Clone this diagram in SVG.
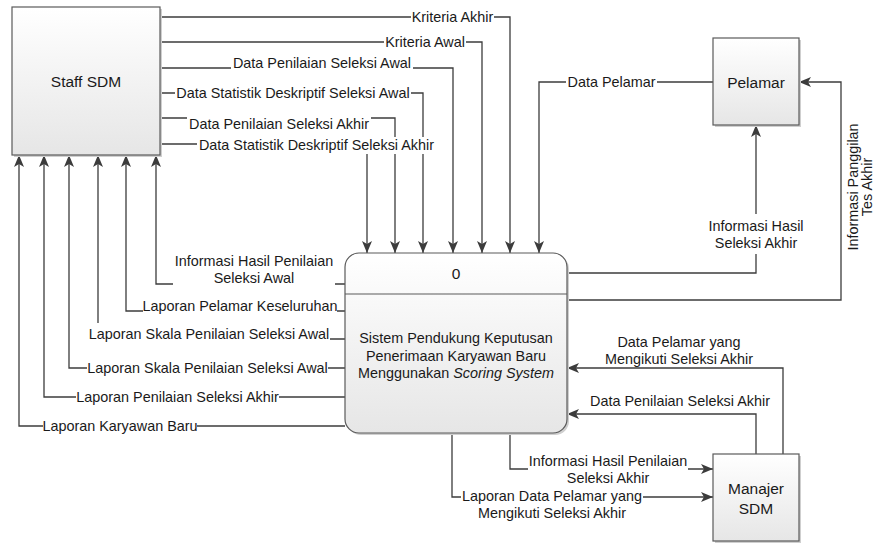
<svg xmlns="http://www.w3.org/2000/svg" width="875" height="543" viewBox="0 0 875 543">
  <defs>
    <linearGradient id="boxFill" x1="0" y1="0" x2="0" y2="1">
      <stop offset="0" stop-color="#ffffff"/>
      <stop offset="1" stop-color="#e6e6e6"/>
    </linearGradient>
    <marker id="arrow" viewBox="0 0 12 10" refX="12" refY="5" markerWidth="12" markerHeight="10" orient="auto" markerUnits="userSpaceOnUse">
      <path d="M0,0 L12,5 L0,10 L3,5 z" fill="#3c3c3c"/>
    </marker>
    <style>
      .box { fill: url(#boxFill); stroke: #5a5a5a; stroke-width: 1.2; }
      .shadow { fill: #cfcfcf; }
      .flow { fill: none; stroke: #3c3c3c; stroke-width: 1.3; marker-end: url(#arrow); }
      .lbg { fill: #ffffff; }
      text { font-family: "Liberation Sans", Arial, sans-serif; fill: #1a1a1a; }
      .name { font-size: 15.5px; text-anchor: middle; }
      .lbl { font-size: 14.4px; text-anchor: middle; }
    </style>
  </defs>

  <rect width="875" height="543" fill="#ffffff"/>

  <!-- connectors -->
  <g id="connectors">
    <!-- Staff SDM to process -->
    <path class="flow" d="M160,17 H510 V253"/>
    <path class="flow" d="M160,42 H482 V253"/>
    <path class="flow" d="M160,68 H453 V253"/>
    <path class="flow" d="M160,93 H423 V253"/>
    <path class="flow" d="M160,118 H395 V253"/>
    <path class="flow" d="M160,144 H367 V253"/>
    <!-- Pelamar -->
    <path class="flow" d="M713,82 H539 V253"/>
    <path class="flow" d="M567,273 H756 V125"/>
    <path class="flow" d="M567,300 H841 V82 H799"/>
    <!-- Manajer SDM -->
    <path class="flow" d="M783,454 V368 H567"/>
    <path class="flow" d="M756,454 V414 H567"/>
    <path class="flow" d="M510,433 V469 H713"/>
    <path class="flow" d="M452,433 V497 H713"/>
    <!-- process to Staff SDM -->
    <path class="flow" d="M345,284 H156 V155"/>
    <path class="flow" d="M345,311 H126 V155"/>
    <path class="flow" d="M345,339 H98 V155"/>
    <path class="flow" d="M345,368 H69 V155"/>
    <path class="flow" d="M345,397 H44 V155"/>
    <path class="flow" d="M345,426 H19 V155"/>
  </g>

  <!-- connector labels -->
  <g id="labels">
    <rect class="lbg" x="411" y="9" width="83" height="17"/>
    <text class="lbl" x="452.5" y="22">Kriteria Akhir</text>
    <rect class="lbg" x="384" y="34" width="82" height="17"/>
    <text class="lbl" x="425" y="47">Kriteria Awal</text>
    <rect class="lbg" x="231" y="55" width="182" height="17"/>
    <text class="lbl" x="322" y="68">Data Penilaian Seleksi Awal</text>
    <rect class="lbg" x="175" y="85" width="236" height="17"/>
    <text class="lbl" x="293" y="98">Data Statistik Deskriptif Seleksi Awal</text>
    <rect class="lbg" x="187" y="115" width="184" height="17"/>
    <text class="lbl" x="279" y="128.5">Data Penilaian Seleksi Akhir</text>
    <rect class="lbg" x="197" y="137" width="239" height="17"/>
    <text class="lbl" x="316.5" y="150">Data Statistik Deskriptif Seleksi Akhir</text>

    <rect class="lbg" x="566" y="74" width="91" height="17"/>
    <text class="lbl" x="611.5" y="87">Data Pelamar</text>
    <rect class="lbg" x="714" y="214" width="84" height="40"/>
    <text class="lbl" x="756" y="231">Informasi Hasil</text>
    <text class="lbl" x="756" y="248">Seleksi Akhir</text>
    <text class="lbl" transform="translate(858,187) rotate(-90)">Informasi Panggilan</text>
    <text class="lbl" transform="translate(872,187) rotate(-90)">Tes Akhir</text>

    <text class="lbl" x="679" y="347">Data Pelamar yang</text>
    <text class="lbl" x="679" y="363.5">Mengikuti Seleksi Akhir</text>
    <text class="lbl" x="680" y="406">Data Penilaian Seleksi Akhir</text>
    <rect class="lbg" x="528" y="452" width="160" height="35"/>
    <text class="lbl" x="608" y="466">Informasi Hasil Penilaian</text>
    <text class="lbl" x="608" y="482.5">Seleksi Akhir</text>
    <rect class="lbg" x="461" y="488" width="182" height="34"/>
    <text class="lbl" x="552" y="500.5">Laporan Data Pelamar yang</text>
    <text class="lbl" x="552" y="518">Mengikuti Seleksi Akhir</text>

    <rect class="lbg" x="173" y="250" width="162" height="39"/>
    <text class="lbl" x="254" y="266">Informasi Hasil Penilaian</text>
    <text class="lbl" x="254" y="282.5">Seleksi Awal</text>
    <rect class="lbg" x="143" y="297" width="194" height="17"/>
    <text class="lbl" x="240" y="311">Laporan Pelamar Keseluruhan</text>
    <rect class="lbg" x="88" y="323" width="242" height="19"/>
    <text class="lbl" x="209" y="338.5">Laporan Skala Penilaian Seleksi Awal</text>
    <rect class="lbg" x="87" y="359" width="241" height="17"/>
    <text class="lbl" x="207.5" y="373">Laporan Skala Penilaian Seleksi Awal</text>
    <rect class="lbg" x="76" y="388" width="203" height="17"/>
    <text class="lbl" x="177.5" y="402">Laporan Penilaian Seleksi Akhir</text>
    <rect class="lbg" x="43" y="417" width="154" height="17"/>
    <text class="lbl" x="120" y="431">Laporan Karyawan Baru</text>
  </g>

  <!-- external entity: Staff SDM -->
  <g id="staff-sdm">
    <rect class="shadow" x="14" y="9" width="148" height="148"/>
    <rect class="box" x="12" y="7" width="148" height="148"/>
    <text class="name" x="86" y="87">Staff SDM</text>
  </g>

  <!-- external entity: Pelamar -->
  <g id="pelamar">
    <rect class="shadow" x="715" y="40" width="86" height="87"/>
    <rect class="box" x="713" y="38" width="86" height="87"/>
    <text class="name" x="756" y="87.5">Pelamar</text>
  </g>

  <!-- external entity: Manajer SDM -->
  <g id="manajer-sdm">
    <rect class="shadow" x="715" y="456" width="86" height="87"/>
    <rect class="box" x="713" y="454" width="86" height="87"/>
    <text class="name" x="756" y="493.5">Manajer</text>
    <text class="name" x="756" y="513.5">SDM</text>
  </g>

  <!-- process 0 -->
  <g id="process-0">
    <rect class="shadow" x="347" y="255" width="222" height="180" rx="14" ry="14"/>
    <rect class="box" x="345" y="253" width="222" height="180" rx="14" ry="14"/>
    <line x1="345" y1="294" x2="567" y2="294" stroke="#5a5a5a" stroke-width="1.2"/>
    <text class="name" x="456" y="278.5">0</text>
    <text class="lbl" x="456" y="343">Sistem Pendukung Keputusan</text>
    <text class="lbl" x="456" y="361">Penerimaan Karyawan Baru</text>
    <text class="lbl" x="456" y="378">Menggunakan <tspan font-style="italic">Scoring System</tspan></text>
  </g>
</svg>
